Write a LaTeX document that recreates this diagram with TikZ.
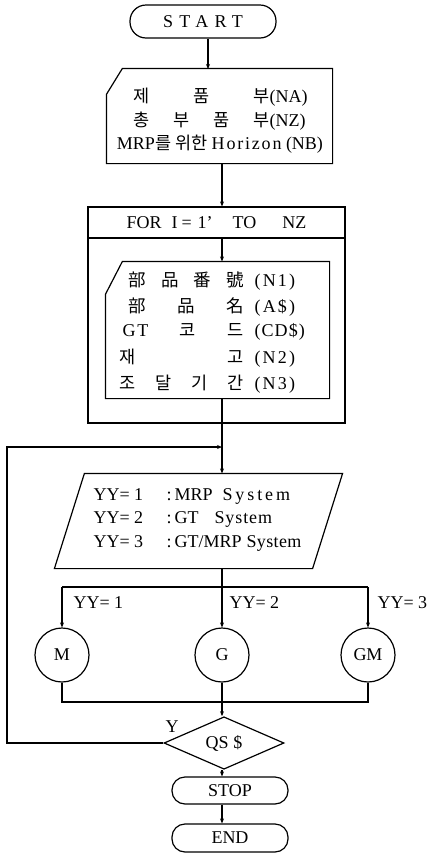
\documentclass[tikz,border=0pt]{standalone}
\usepackage{fontspec}
\setmainfont{Liberation Serif}
\newfontfamily\krfont{Noto Sans CJK KR}
\newcommand{\kr}{\fontsize{17.5}{20}\krfont}
\usetikzlibrary{arrows.meta,shapes.geometric,calc}
\newcommand{\ls}[2]{{\addfontfeature{LetterSpace=#1}#2}}
\begin{document}
\begin{tikzpicture}[x=1pt,y=-1pt,line width=1.2pt,
  every node/.style={font=\fontsize{18}{21}\selectfont, inner sep=0pt},
  arr/.style={-{Stealth[length=5pt,width=4pt]}},
  term/.style={draw, rectangle, rounded corners=13pt, minimum width=116pt, minimum height=27pt},
  boxarea/.style={rectangle},
  txt/.style={anchor=west},
  circ/.style={draw, circle, minimum size=54pt}]
\useasboundingbox (0,0) rectangle (432,860);
\coordinate (mx) at (222,0);

% START
\node[term, minimum width=146pt, minimum height=33pt, rounded corners=16pt] (start) at (203,21.5) {\ls{35}{START}};

% card 1
\node[boxarea, minimum width=225pt, minimum height=94pt] (card1) at (219.5,116) {};
\draw ($(card1.north west)+(0,26)$) -- ($(card1.north west)+(16,0)$) -- (card1.north east) -- (card1.south east) -- (card1.south west) -- cycle;
\node[txt] (na) at (133,97) {\hbox to 136pt{\kr 제\hfill 품\hfill 부}(NA)};
\node[txt] (nz) at (133,121) {\hbox to 136pt{\kr 총\hfill 부\hfill 품\hfill 부}(NZ)};
\node (nb) at (220,144) {MRP{\kr 를 위한} \ls{10}{Horizon} (NB)};
\coordinate (a1) at (208,69);
\draw[arr] (start.south -| a1) -- (a1);

% FOR box
\node[draw, rectangle, minimum width=257pt, minimum height=31pt] (forh) at (216.5,222.5)
  {FOR\hspace{10pt}I\kern4pt=\kern6pt1'\hspace{20pt}TO\hspace{26pt}NZ};
\node[draw, rectangle, minimum width=257pt, minimum height=185pt] (forb) at (216.5,330.5) {};
\draw[arr] (card1.south -| mx) -- (forh.north -| mx);

% inner card
\node[boxarea, minimum width=223pt, minimum height=136pt] (card2) at (217.5,330) {};
\draw ($(card2.north west)+(0,33)$) -- ($(card2.north west)+(17,0)$) -- (card2.north east) -- (card2.south east) -- (card2.south west) -- cycle;
\draw[arr] (forh.south -| mx) -- (card2.north -| mx);
\node[txt] (r1) at (128,281) {\hbox to 115pt{\kr 部\hfill 品\hfill 番\hfill 號}\hspace{11pt}\ls{12}{(N1)}};
\node[txt] (r2) at (128,307) {\hbox to 115pt{\kr 部\hfill 品\hfill 名}\hspace{11pt}\ls{12}{(A\$)}};
\node[txt] (r3) at (122,332) {\hbox to 121pt{\ls{10}{GT}\hfill{\kr 코}\hfill{\kr 드}}\hspace{11pt}\ls{6}{(CD\$)}};
\node[txt] (r4) at (119,358) {\hbox to 124pt{\kr 재\hfill 고}\hspace{11pt}\ls{12}{(N2)}};
\node[txt] (r5) at (119,384) {\hbox to 124pt{\kr 조\hfill 달\hfill 기\hfill 간}\hspace{11pt}\ls{12}{(N3)}};

% input/output
\node[boxarea, minimum width=257pt, minimum height=94pt] (io) at (198.5,521) {};
\draw ($(io.north west)+(15,0)$) -- ($(io.north east)+(15,0)$) -- ($(io.south east)+(-15,0)$) -- ($(io.south west)+(-15,0)$) -- cycle;
\draw[arr] (card2.south -| mx) -- (io.north -| mx);
\node[txt] (y1) at (93,496) {\hbox to 78pt{YY= 1\hfill:}\hspace{3pt}MRP\hspace{10pt}\ls{16}{System}};
\node[txt] (y2) at (93,519) {\hbox to 78pt{YY= 2\hfill:}\hspace{3pt}GT\hspace{16pt}\ls{5}{System}};
\node[txt] (y3) at (93,543) {\hbox to 78pt{YY= 3\hfill:}\hspace{3pt}GT/MRP\hspace{5pt}\ls{2}{System}};

% branches
\node[circ] (m) at (62,655) {M};
\node[circ] (g) at (222,655) {G};
\node[circ] (gm) at (368,655) {GM};
\coordinate (b0) at (222,587);
\coordinate (bl) at (62,587);
\coordinate (br) at (368,587);
\draw (io.south -| mx) -- (b0);
\draw (bl) -- (br);
\draw[arr] (bl) -- (m.north);
\draw[arr] (b0) -- (g.north);
\draw[arr] (br) -- (gm.north);
\node[txt] (l1) at (73,603) {YY= 1};
\node[txt] (l2) at (229,603) {YY= 2};
\node[txt] (l3) at (377,603) {YY= 3};

% merge
\coordinate (ml) at (62,702);
\coordinate (mr) at (368,702);
\coordinate (m0) at (222,702);
\draw (m.south) -- (ml) -- (mr) -- (gm.south);
\draw (g.south) -- (m0);

% decision
\node[draw, diamond, minimum width=120pt, minimum height=42pt] (dia) at (224,743) {QS \$};
\draw[arr] (m0) -- (m0 |- dia.north);
\node (ylab) at (172,727) {Y};
\coordinate (lc) at (7,447);
\coordinate (lp) at (222,447);
\draw[arr] (dia.west) -| (lc) -- (lp);

% stop / end
\node[term] (stop) at (230,790.5) {STOP};
\node[term, minimum height=28pt] (end) at (230,838) {END};
\draw[arr] (mx |- dia.south) -- (mx |- stop.north);
\draw[arr] (mx |- stop.south) -- (mx |- end.north);
\end{tikzpicture}
\end{document}
